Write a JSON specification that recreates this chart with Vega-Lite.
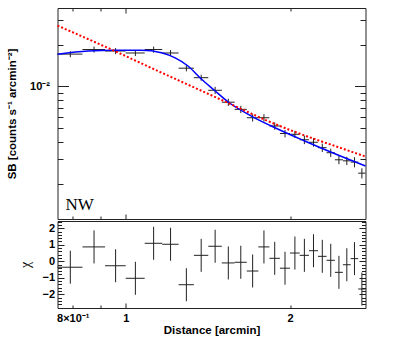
{
  "$schema": "https://vega.github.io/schema/vega-lite/v6.json",
  "padding": {"left": 5.5, "top": 7, "right": 5, "bottom": 2},
  "spacing": 0,
  "config": {
    "view": {"stroke": "#222", "strokeWidth": 1},
    "axis": {"grid": false, "domain": false, "labelFont": "Liberation Sans", "labelFontWeight": "bold", "labelFontSize": 11, "labelColor": "#000", "tickColor": "#222", "tickWidth": 1, "titleFont": "Liberation Sans", "titleFontWeight": "bold", "titleFontSize": 11.5, "titleColor": "#000"}
  },
  "datasets": {
    "pts": [
      {"x": 0.7917, "xlo": 0.75, "xhi": 0.8333, "y": 0.0171, "ylo": 0.01625, "yhi": 0.01796, "chi": -0.36, "chilo": -1.36, "chihi": 0.64},
      {"x": 0.875, "xlo": 0.8333, "xhi": 0.9167, "y": 0.01845, "ylo": 0.01753, "yhi": 0.01937, "chi": 0.87, "chilo": -0.13, "chihi": 1.87},
      {"x": 0.9583, "xlo": 0.9167, "xhi": 1.0, "y": 0.018, "ylo": 0.0171, "yhi": 0.0189, "chi": -0.27, "chilo": -1.27, "chihi": 0.73},
      {"x": 1.0417, "xlo": 1.0, "xhi": 1.0833, "y": 0.01742, "ylo": 0.01655, "yhi": 0.01829, "chi": -1.03, "chilo": -2.03, "chihi": -0.03},
      {"x": 1.125, "xlo": 1.0833, "xhi": 1.1667, "y": 0.01845, "ylo": 0.01753, "yhi": 0.01937, "chi": 1.09, "chilo": 0.09, "chihi": 2.09},
      {"x": 1.2083, "xlo": 1.1667, "xhi": 1.25, "y": 0.01742, "ylo": 0.01655, "yhi": 0.01829, "chi": 1.03, "chilo": 0.03, "chihi": 2.03},
      {"x": 1.2917, "xlo": 1.25, "xhi": 1.3333, "y": 0.01354, "ylo": 0.01286, "yhi": 0.01422, "chi": -1.42, "chilo": -2.42, "chihi": -0.42},
      {"x": 1.375, "xlo": 1.3333, "xhi": 1.4167, "y": 0.01157, "ylo": 0.01099, "yhi": 0.01215, "chi": 0.36, "chilo": -0.64, "chihi": 1.36},
      {"x": 1.4583, "xlo": 1.4167, "xhi": 1.5, "y": 0.00939, "ylo": 0.00883, "yhi": 0.00995, "chi": 0.91, "chilo": -0.09, "chihi": 1.91},
      {"x": 1.5417, "xlo": 1.5, "xhi": 1.5833, "y": 0.00771, "ylo": 0.00725, "yhi": 0.00817, "chi": -0.1, "chilo": -1.1, "chihi": 0.9},
      {"x": 1.625, "xlo": 1.5833, "xhi": 1.6667, "y": 0.00685, "ylo": 0.00644, "yhi": 0.00726, "chi": -0.06, "chilo": -1.06, "chihi": 0.94},
      {"x": 1.7083, "xlo": 1.6667, "xhi": 1.75, "y": 0.00596, "ylo": 0.0056, "yhi": 0.00632, "chi": -0.59, "chilo": -1.59, "chihi": 0.41},
      {"x": 1.7917, "xlo": 1.75, "xhi": 1.8333, "y": 0.00596, "ylo": 0.0056, "yhi": 0.00632, "chi": 0.87, "chilo": -0.13, "chihi": 1.87},
      {"x": 1.875, "xlo": 1.8333, "xhi": 1.9167, "y": 0.0052, "ylo": 0.00489, "yhi": 0.00551, "chi": 0.18, "chilo": -0.82, "chihi": 1.18},
      {"x": 1.9583, "xlo": 1.9167, "xhi": 2.0, "y": 0.00459, "ylo": 0.00431, "yhi": 0.00487, "chi": -0.42, "chilo": -1.42, "chihi": 0.58},
      {"x": 2.0417, "xlo": 2.0, "xhi": 2.0833, "y": 0.00453, "ylo": 0.00426, "yhi": 0.0048, "chi": 0.5, "chilo": -0.5, "chihi": 1.5},
      {"x": 2.125, "xlo": 2.0833, "xhi": 2.1667, "y": 0.00414, "ylo": 0.00385, "yhi": 0.00443, "chi": 0.36, "chilo": -0.64, "chihi": 1.36},
      {"x": 2.2083, "xlo": 2.1667, "xhi": 2.25, "y": 0.00397, "ylo": 0.00369, "yhi": 0.00425, "chi": 0.64, "chilo": -0.36, "chihi": 1.64},
      {"x": 2.2917, "xlo": 2.25, "xhi": 2.3333, "y": 0.00363, "ylo": 0.00338, "yhi": 0.00388, "chi": 0.3, "chilo": -0.7, "chihi": 1.3},
      {"x": 2.375, "xlo": 2.3333, "xhi": 2.4167, "y": 0.00334, "ylo": 0.00311, "yhi": 0.00357, "chi": 0.06, "chilo": -0.94, "chihi": 1.06},
      {"x": 2.4583, "xlo": 2.4167, "xhi": 2.5, "y": 0.00297, "ylo": 0.00276, "yhi": 0.00318, "chi": -0.67, "chilo": -1.67, "chihi": 0.33},
      {"x": 2.5417, "xlo": 2.5, "xhi": 2.5833, "y": 0.00292, "ylo": 0.00272, "yhi": 0.00312, "chi": -0.21, "chilo": -1.21, "chihi": 0.79},
      {"x": 2.625, "xlo": 2.5833, "xhi": 2.6667, "y": 0.00286, "ylo": 0.00262, "yhi": 0.0031, "chi": 0.16, "chilo": -0.84, "chihi": 1.16},
      {"x": 2.7083, "xlo": 2.6667, "xhi": 2.75, "y": 0.00238, "ylo": 0.00218, "yhi": 0.00258, "chi": -1.68, "chilo": -2.68, "chihi": -0.68}
    ],
    "blue": [
      {"x": 0.75, "y": 0.01705}, {"x": 0.853, "y": 0.018}, {"x": 0.9547, "y": 0.01822}, {"x": 1.0685, "y": 0.01822},
      {"x": 1.1627, "y": 0.0175}, {"x": 1.2295, "y": 0.01612}, {"x": 1.3004, "y": 0.01404}, {"x": 1.3757, "y": 0.01132},
      {"x": 1.4555, "y": 0.00936}, {"x": 1.5391, "y": 0.00777}, {"x": 1.699, "y": 0.00613}, {"x": 1.848, "y": 0.0052},
      {"x": 2.128, "y": 0.004055}, {"x": 2.448, "y": 0.003215}, {"x": 2.75, "y": 0.00268}
    ],
    "red": [
      {"x": 0.75, "y": 0.02742}, {"x": 0.9547, "y": 0.018}, {"x": 1.13, "y": 0.01325}, {"x": 1.405, "y": 0.00898},
      {"x": 1.606, "y": 0.00706}, {"x": 1.848, "y": 0.00551}, {"x": 2.128, "y": 0.00444}, {"x": 2.448, "y": 0.00367},
      {"x": 2.75, "y": 0.003135}
    ],
    "label": [{"x": 0.7755, "y": 0.001287, "text": "NW"}]
  },
  "vconcat": [
    {
      "width": 308,
      "height": 211,
      "resolve": {"axis": {"x": "independent", "y": "independent"}},
      "layer": [
        {
          "data": {"name": "pts"},
          "mark": {"type": "rule", "color": "#222", "strokeWidth": 1},
          "encoding": {
            "x": {"field": "xlo", "type": "quantitative", "scale": {"type": "log", "domain": [0.75, 2.75], "nice": false}, "axis": {"orient": "bottom", "values": [0.8, 0.9, 2], "labels": false, "tickSize": -3, "title": null}},
            "x2": {"field": "xhi"},
            "y": {"field": "y", "type": "quantitative", "scale": {"type": "log", "domain": [0.001114, 0.0367], "nice": false}, "axis": {"orient": "left", "values": [0.002, 0.003, 0.004, 0.005, 0.006, 0.007, 0.008, 0.009, 0.02, 0.03], "labels": false, "tickSize": -5.5, "title": null}}
          }
        },
        {
          "data": {"name": "pts"},
          "mark": {"type": "rule", "color": "#222", "strokeWidth": 1},
          "encoding": {
            "x": {"field": "x", "type": "quantitative", "scale": {"type": "log", "domain": [0.75, 2.75], "nice": false}, "axis": {"orient": "bottom", "values": [1], "labels": false, "tickSize": -5, "title": null}},
            "y": {"field": "ylo", "type": "quantitative", "scale": {"type": "log", "domain": [0.001114, 0.0367], "nice": false}, "axis": {"orient": "left", "values": [0.01], "tickSize": -11, "labelPadding": 19, "labelExpr": "'10⁻²'", "title": "SB [counts s⁻¹ arcmin⁻²]", "titlePadding": 12}},
            "y2": {"field": "yhi"}
          }
        },
        {
          "data": {"name": "blue"},
          "mark": {"type": "line", "color": "#0000ff", "strokeWidth": 1.5, "interpolate": "monotone"},
          "encoding": {
            "x": {"field": "x", "type": "quantitative", "scale": {"type": "log", "domain": [0.75, 2.75], "nice": false}, "axis": {"orient": "top", "values": [0.8, 0.9, 2], "labels": false, "tickSize": -3, "title": null}},
            "y": {"field": "y", "type": "quantitative", "scale": {"type": "log", "domain": [0.001114, 0.0367], "nice": false}, "axis": {"orient": "right", "values": [0.002, 0.003, 0.004, 0.005, 0.006, 0.007, 0.008, 0.009, 0.02, 0.03], "labels": false, "tickSize": -5.5, "title": null}}
          }
        },
        {
          "data": {"name": "red"},
          "mark": {"type": "line", "color": "#ff0000", "strokeWidth": 2, "strokeDash": [2, 2], "interpolate": "monotone"},
          "encoding": {
            "x": {"field": "x", "type": "quantitative", "scale": {"type": "log", "domain": [0.75, 2.75], "nice": false}, "axis": {"orient": "top", "values": [1], "labels": false, "tickSize": -5, "title": null}},
            "y": {"field": "y", "type": "quantitative", "scale": {"type": "log", "domain": [0.001114, 0.0367], "nice": false}, "axis": {"orient": "right", "values": [0.01], "labels": false, "tickSize": -11, "title": null}}
          }
        },
        {
          "data": {"name": "label"},
          "mark": {"type": "text", "font": "Liberation Serif", "fontSize": 17, "align": "left", "baseline": "alphabetic", "color": "#000"},
          "encoding": {
            "x": {"field": "x", "type": "quantitative", "scale": {"type": "log", "domain": [0.75, 2.75], "nice": false}, "axis": null},
            "y": {"field": "y", "type": "quantitative", "scale": {"type": "log", "domain": [0.001114, 0.0367], "nice": false}, "axis": null},
            "text": {"field": "text"}
          }
        }
      ]
    },
    {
      "width": 308,
      "height": 87,
      "resolve": {"axis": {"x": "independent", "y": "independent"}},
      "layer": [
        {
          "data": {"name": "pts"},
          "mark": {"type": "rule", "color": "#222", "strokeWidth": 1},
          "encoding": {
            "x": {"field": "xlo", "type": "quantitative", "scale": {"type": "log", "domain": [0.75, 2.75], "nice": false}, "axis": {"orient": "bottom", "values": [0.8, 0.9, 2], "tickSize": -3, "labelPadding": 7, "labelExpr": "datum.value > 1.5 ? '2' : (datum.value < 0.85 ? '8×10⁻¹' : '')", "title": "Distance [arcmin]", "titlePadding": 1}},
            "x2": {"field": "xhi"},
            "y": {"field": "chi", "type": "quantitative", "scale": {"domain": [-2.83, 2.44], "nice": false, "zero": false}, "axis": {"orient": "left", "values": [-2.8, -2.6, -2.4, -2.2, -1.8, -1.6, -1.4, -1.2, -0.8, -0.6, -0.4, -0.2, 0.2, 0.4, 0.6, 0.8, 1.2, 1.4, 1.6, 1.8, 2.2, 2.4], "labels": false, "tickSize": -4, "title": null}}
          }
        },
        {
          "data": {"name": "pts"},
          "mark": {"type": "rule", "color": "#222", "strokeWidth": 1},
          "encoding": {
            "x": {"field": "x", "type": "quantitative", "scale": {"type": "log", "domain": [0.75, 2.75], "nice": false}, "axis": {"orient": "bottom", "values": [1], "tickSize": -5, "labelPadding": 9, "labelExpr": "'1'", "title": null}},
            "y": {"field": "chilo", "type": "quantitative", "scale": {"domain": [-2.83, 2.44], "nice": false, "zero": false}, "axis": {"orient": "left", "values": [-2, -1, 0, 1, 2], "tickSize": -6.5, "labelPadding": 9.5, "title": "χ", "titlePadding": 9, "titleFontSize": 14, "titleFontWeight": "normal", "titleFont": "Liberation Serif"}},
            "y2": {"field": "chihi"}
          }
        },
        {
          "mark": {"type": "rule", "color": "#555", "strokeWidth": 1},
          "encoding": {
            "y": {"datum": 0, "type": "quantitative", "scale": {"domain": [-2.83, 2.44], "nice": false, "zero": false}, "axis": {"orient": "right", "values": [-2.8, -2.6, -2.4, -2.2, -1.8, -1.6, -1.4, -1.2, -0.8, -0.6, -0.4, -0.2, 0.2, 0.4, 0.6, 0.8, 1.2, 1.4, 1.6, 1.8, 2.2, 2.4], "labels": false, "tickSize": -4, "title": null}}
          }
        },
        {
          "mark": {"type": "rule", "color": "#555", "strokeWidth": 1},
          "encoding": {
            "y": {"datum": 0, "type": "quantitative", "scale": {"domain": [-2.83, 2.44], "nice": false, "zero": false}, "axis": {"orient": "right", "values": [-2, -1, 0, 1, 2], "labels": false, "tickSize": -6.5, "title": null}}
          }
        }
      ]
    }
  ]
}
